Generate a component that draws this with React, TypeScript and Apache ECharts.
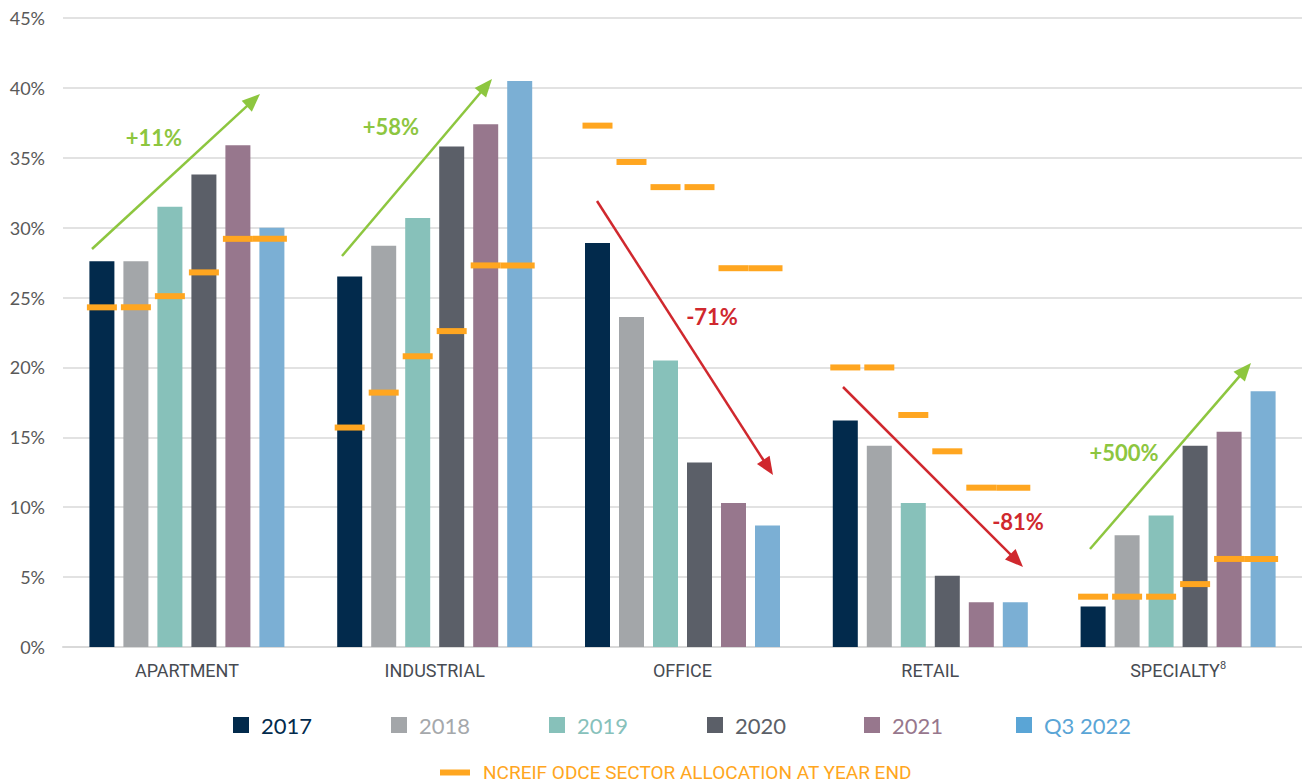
import React, { useEffect, useRef } from "react";
import * as echarts from "echarts";

const categories = ["APARTMENT", "INDUSTRIAL", "OFFICE", "RETAIL", "SPECIALTY"];
const seriesNames = ["2017", "2018", "2019", "2020", "2021", "Q3 2022"];

// Sector share of portfolio (%)
const s2017 = [27.6, 26.5, 28.9, 16.2, 2.9];
const s2018 = [27.6, 28.7, 23.6, 14.4, 8.0];
const s2019 = [31.5, 30.7, 20.5, 10.3, 9.4];
const s2020 = [33.8, 35.8, 13.2, 5.1, 14.4];
const s2021 = [35.9, 37.4, 10.3, 3.2, 15.4];
const sQ3 = [30.0, 40.5, 8.7, 3.2, 18.3];

// NCREIF ODCE sector allocation at year end (%)
const o2017 = [24.3, 15.7, 37.3, 20.0, 3.6];
const o2018 = [24.3, 18.2, 34.7, 20.0, 3.6];
const o2019 = [25.1, 20.8, 32.9, 16.6, 3.6];
const o2020 = [26.8, 22.6, 32.9, 14.0, 4.5];
const o2021 = [29.2, 27.3, 27.1, 11.4, 6.3];
const oQ3 = [29.2, 27.3, 27.1, 11.4, 6.3];

const yTicks = { min: 0, max: 45, interval: 5 };
const odceName = "NCREIF ODCE SECTOR ALLOCATION AT YEAR END";

const barColors = ["#022a4c", "#a3a6a9", "#87c1ba", "#5b5f68", "#97778d", "#7bafd4"];
const legendIconColors = ["#022a4c", "#a3a6a9", "#87c1ba", "#5b5f68", "#97778d", "#5aa5d6"];
const legendTextColors = ["#022a4c", "#a5a8ab", "#87c1bb", "#5b5f68", "#97778d", "#5aa5d6"];
const ORANGE = "#ffa620";
const GREEN = "#8dc63f";
const RED = "#d0282e";

// annotation geometry (pixels)
const arrows = [
  { from: [92, 249], to: [260, 94], color: GREEN },
  { from: [342, 256], to: [492, 79], color: GREEN },
  { from: [597, 201], to: [773, 475], color: RED },
  { from: [843, 387], to: [1023, 567], color: RED },
  { from: [1090, 549], to: [1251, 363], color: GREEN },
];
const notes = [
  { text: "+11%", x: 154, y: 137, color: GREEN },
  { text: "+58%", x: 391, y: 126, color: GREEN },
  { text: "-71%", x: 712, y: 316, color: RED },
  { text: "-81%", x: 1018, y: 521, color: RED },
  { text: "+500%", x: 1124, y: 452, color: GREEN },
];
const legendLefts = [233, 391, 549, 707, 864, 1016];

const BAR_W = 25;
const BAR_GAP = 9;
const NARROW = "'Liberation Sans Narrow', 'Arial Narrow', Roboto, sans-serif";

function arrowGraphics() {
  const out: any[] = [];
  arrows.forEach((a) => {
    const [x1, y1] = a.from;
    const [x2, y2] = a.to;
    const dx = x2 - x1, dy = y2 - y1;
    const len = Math.sqrt(dx * dx + dy * dy);
    const ux = dx / len, uy = dy / len;
    const nx = -uy, ny = ux;
    const hl = 18, hw = 7.5;
    const bx = x2 - ux * hl, by = y2 - uy * hl;
    out.push({
      type: "line",
      shape: { x1, y1, x2: bx + ux * 2, y2: by + uy * 2 },
      style: { stroke: a.color, lineWidth: 2.5 },
      z: 100,
    });
    out.push({
      type: "polygon",
      shape: {
        points: [
          [x2, y2],
          [bx + nx * hw, by + ny * hw],
          [bx - nx * hw, by - ny * hw],
        ],
      },
      style: { fill: a.color },
      z: 100,
    });
  });
  notes.forEach((n) => {
    out.push({
      type: "text",
      x: n.x,
      y: n.y,
      style: {
        text: n.text,
        fill: n.color,
        font: "bold 22px Lato, sans-serif",
        textAlign: "center",
        textVerticalAlign: "middle",
      },
      z: 100,
    });
  });
  return out;
}

export default function App() {
  const ref = useRef<HTMLDivElement>(null);
  useEffect(() => {
    document.body.style.margin = "0";
    if (!ref.current) return;
    const chart = echarts.init(ref.current, undefined, { renderer: "svg" });
    const values = [s2017, s2018, s2019, s2020, s2021, sQ3];
    const odce = [o2017, o2018, o2019, o2020, o2021, oQ3];
    const odceData: any[] = [];
    odce.forEach((arr, j) => arr.forEach((v, i) => odceData.push([i, v, j])));
    const pitch = BAR_W + BAR_GAP;
    const groupW = 6 * BAR_W + 5 * BAR_GAP;

    const barSeries = values.map((arr, j) => ({
      name: seriesNames[j],
      type: "bar",
      data: arr,
      barWidth: BAR_W,
      barGap: `${(BAR_GAP / BAR_W) * 100}%`,
      itemStyle: { color: barColors[j] },
      z: 2,
    }));

    const legends: any[] = seriesNames.map((name, j) => ({
      data: [
        {
          name,
          itemStyle: { color: legendIconColors[j] },
          textStyle: { color: legendTextColors[j] },
        },
      ],
      left: legendLefts[j],
      top: 714,
      padding: 0,
      icon: "rect",
      itemWidth: 16,
      itemHeight: 16,
      selectedMode: false,
      textStyle: {
        fontFamily: "Lato, sans-serif",
        fontSize: 22,
        padding: [0, 0, 0, 7],
      },
    }));
    legends.push({
      data: [{ name: odceName, itemStyle: { color: ORANGE } }],
      left: 440,
      top: 763,
      padding: 0,
      icon: "rect",
      itemWidth: 30,
      itemHeight: 6,
      selectedMode: false,
      textStyle: {
        fontFamily: NARROW,
        fontSize: 19,
        color: ORANGE,
        padding: [0, 0, 0, 8],
      },
    });

    chart.setOption({
      animation: false,
      grid: { left: 63, right: 0, top: 18, bottom: 137 },
      legend: legends,
      xAxis: {
        type: "category",
        data: categories,
        axisTick: { show: false },
        axisLine: { lineStyle: { color: "#d9d9d9", width: 2 } },
        axisLabel: {
          interval: 0,
          margin: 13,
          color: "#474b52",
          fontFamily: NARROW,
          fontSize: 18,
          formatter: (v: string) => (v === "SPECIALTY" ? "{n|SPECIALTY}{sup|8}" : `{n|${v}}`),
          rich: {
            n: { fontFamily: NARROW, fontSize: 18, color: "#474b52", lineHeight: 20 },
            sup: { fontFamily: NARROW, fontSize: 11, color: "#474b52", lineHeight: 11, verticalAlign: "top" },
          },
        },
      },
      yAxis: {
        type: "value",
        min: yTicks.min,
        max: yTicks.max,
        interval: yTicks.interval,
        axisLine: { show: false },
        axisTick: { show: false },
        splitLine: { lineStyle: { color: "#d9d9d9", width: 1.5 } },
        axisLabel: {
          formatter: "{value}%",
          margin: 18,
          color: "#595959",
          fontFamily: "Lato, sans-serif",
          fontSize: 18,
        },
      },
      series: [
        ...barSeries,
        {
          name: odceName,
          type: "custom",
          data: odceData,
          encode: { x: 0, y: 1 },
          itemStyle: { color: ORANGE },
          z: 5,
          renderItem: (params: any, api: any) => {
            const cat = api.value(0);
            const val = api.value(1);
            const j = api.value(2);
            const p = api.coord([cat, val]);
            const cx = p[0] - groupW / 2 + BAR_W / 2 + j * pitch;
            let x = cx - 15;
            let w = 30;
            if (j === 5) {
              x = cx - pitch + 15;
              w = pitch;
            }
            return {
              type: "rect",
              shape: { x, y: p[1] - 3, width: w, height: 6 },
              style: { fill: ORANGE },
            };
          },
        },
      ],
      graphic: arrowGraphics(),
    });
    return () => chart.dispose();
  }, []);
  return <div ref={ref} style={{ width: 1302, height: 784 }} />;
}
